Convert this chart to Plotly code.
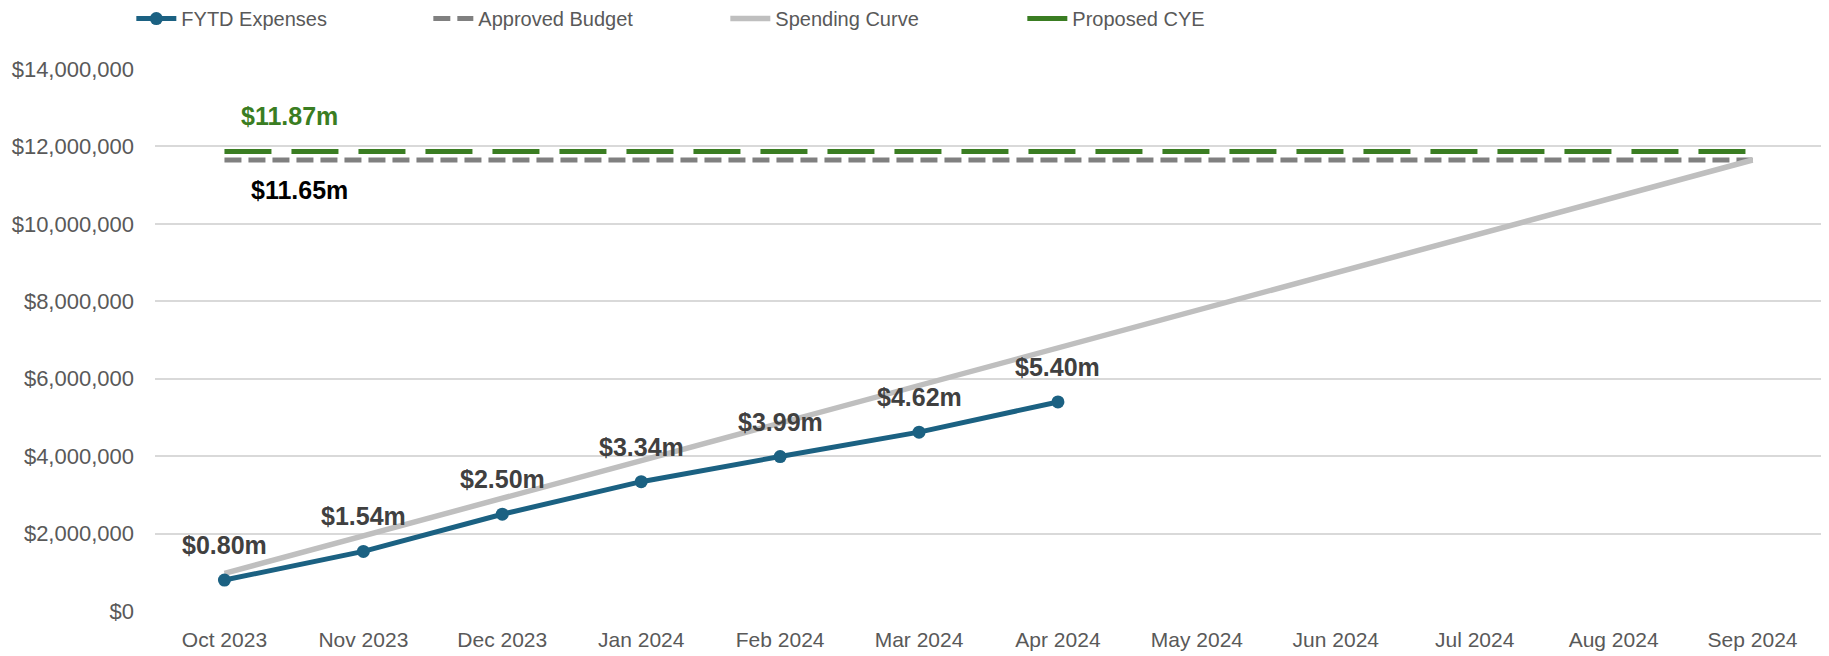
import plotly.graph_objects as go

months = ["Oct 2023", "Nov 2023", "Dec 2023", "Jan 2024", "Feb 2024", "Mar 2024",
          "Apr 2024", "May 2024", "Jun 2024", "Jul 2024", "Aug 2024", "Sep 2024"]
fytd_expenses = [800000, 1540000, 2500000, 3340000, 3990000, 4620000, 5400000]
fytd_labels = ["$0.80m", "$1.54m", "$2.50m", "$3.34m", "$3.99m", "$4.62m", "$5.40m"]
approved_budget = [11650000] * 12
spending_curve = [970000, 1940000, 2910000, 3880000, 4850000, 5830000,
                  6800000, 7770000, 8740000, 9710000, 10680000, 11650000]
proposed_cye = [11870000] * 12
y_ticks = [0, 2000000, 4000000, 6000000, 8000000, 10000000, 12000000, 14000000]
y_tick_labels = ["$0", "$2,000,000", "$4,000,000", "$6,000,000", "$8,000,000",
                 "$10,000,000", "$12,000,000", "$14,000,000"]

BLUE = "#1B6182"
GRAY = "#808080"
LGRAY = "#BFBFBF"
GREEN = "#3A7D22"
SANS = "Liberation Sans, Arial, sans-serif"

fig = go.Figure()
fig.add_trace(go.Scatter(
    x=months, y=approved_budget, name="Approved Budget", mode="lines",
    line=dict(color=GRAY, width=5, dash="17px,7px"), legendrank=2))
fig.add_trace(go.Scatter(
    x=months, y=spending_curve, name="Spending Curve", mode="lines",
    line=dict(color=LGRAY, width=5.5), legendrank=3))
fig.add_trace(go.Scatter(
    x=months, y=proposed_cye, name="Proposed CYE", mode="lines",
    line=dict(color=GREEN, width=5, dash="47px,20px"), legendrank=4))
fig.add_trace(go.Scatter(
    x=months[:len(fytd_expenses)], y=fytd_expenses, name="FYTD Expenses",
    mode="lines+markers", line=dict(color=BLUE, width=5),
    marker=dict(color=BLUE, size=13), legendrank=1))

for m, v, t in zip(months, fytd_expenses, fytd_labels):
    fig.add_annotation(x=m, y=v, text=t, showarrow=False, yshift=35,
                       font=dict(family=SANS, size=25, color="#404040", weight="bold"))

fig.add_annotation(x=months[0], y=proposed_cye[0], text="$11.87m", showarrow=False,
                   xshift=65, yshift=35,
                   font=dict(family=SANS, size=25, color=GREEN, weight="bold"))
fig.add_annotation(x=months[0], y=approved_budget[0], text="$11.65m", showarrow=False,
                   xshift=75, yshift=-30,
                   font=dict(family=SANS, size=25, color="#000000", weight="bold"))

fig.update_layout(
    width=1821, height=648,
    margin=dict(l=147, r=7, t=61, b=45, autoexpand=False),
    paper_bgcolor="white", plot_bgcolor="white",
    showlegend=True,
    legend=dict(orientation="h", x=-0.0142, xanchor="left", y=1.093, yanchor="middle",
                traceorder="normal", font=dict(family=SANS, size=20, color="#595959"),
                entrywidth=242, itemwidth=40),
    xaxis=dict(type="category", categoryorder="array", categoryarray=months,
               range=[-0.5, 11.5], showgrid=False, showline=False, ticks="",
               ticklabelstandoff=14,
               tickfont=dict(family=SANS, size=21, color="#595959")),
    yaxis=dict(range=[0, 14000000], tickvals=y_ticks, ticktext=y_tick_labels,
               showgrid=True, gridcolor="#D9D9D9", gridwidth=2, zeroline=False,
               showline=False, ticks="", ticklen=0, ticklabelstandoff=20,
               tickfont=dict(family=SANS, size=22, color="#595959")),
)

fig.write_html("out.html")
